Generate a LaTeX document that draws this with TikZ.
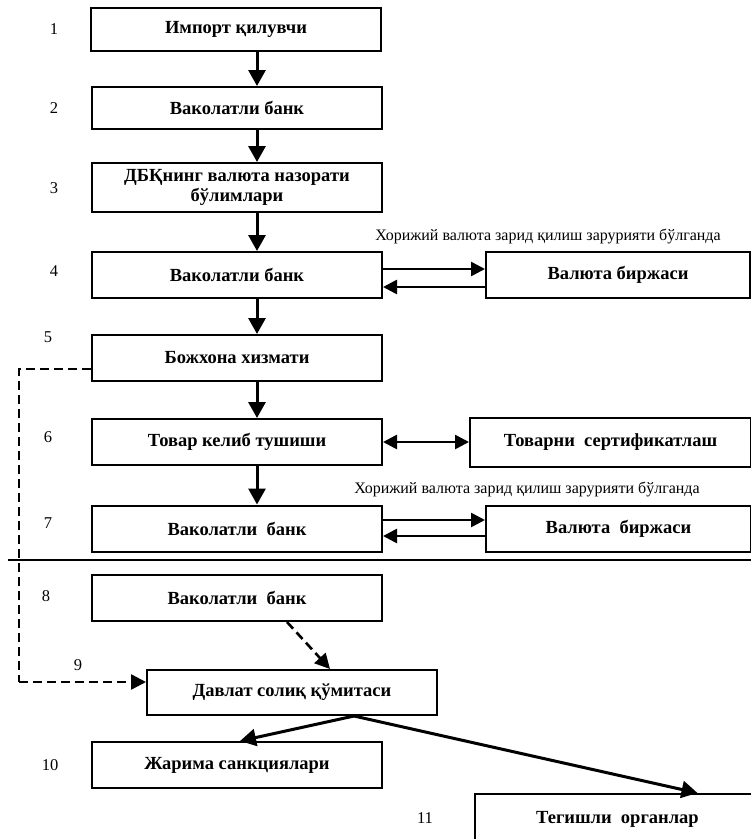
\documentclass[tikz,border=0pt]{standalone}
\usepackage{fontspec}
\setmainfont{Liberation Serif}
\usetikzlibrary{arrows.meta}
\tikzset{
 box/.style={draw, line width=2pt, inner sep=0pt, align=center,
   font=\bfseries\fontsize{18.5}{20}\selectfont},
 num/.style={font=\fontsize{16.5}{18}\selectfont, inner sep=0pt},
 note/.style={font=\fontsize{16}{18}\selectfont, inner sep=0pt},
 flow/.style={line width=3pt, -{Triangle[length=16pt,width=17pt]}},
 side/.style={line width=2.6pt, -{Triangle[length=14pt,width=14pt]}},
 both/.style={line width=2.6pt, {Triangle[length=14pt,width=14pt]}-{Triangle[length=14pt,width=14pt]}},
 dsh/.style={line width=2.6pt, dash pattern=on 9pt off 5pt},
 dflow/.style={dsh, -{Triangle[length=15pt,width=15pt]}},
}
\begin{document}
\begin{tikzpicture}[x=1pt,y=-1pt]
\useasboundingbox (0,0) rectangle (751,839);
\clip (0,0) rectangle (751,839);
\coordinate (ax) at (257,0);
% main column
\node[box, minimum width=290pt, minimum height=43pt] (b1) at (236,29.5) {Импорт қилувчи};
\node[box, minimum width=290pt, minimum height=42pt] (b2) at (237,108) {Ваколатли банк};
\node[box, minimum width=290pt, minimum height=49pt] (b3) at (237,187.5) {ДБҚнинг валюта назорати\\бўлимлари};
\node[box, minimum width=290pt, minimum height=46pt] (b4) at (237,275) {Ваколатли банк};
\node[box, minimum width=264pt, minimum height=46pt] (vb1) at (618,275) {Валюта биржаси};
\node[box, minimum width=290pt, minimum height=46pt] (b5) at (237,358) {Божхона хизмати};
\node[box, minimum width=290pt, minimum height=46pt] (b6) at (237,442) {Товар келиб тушиши};
\node[box, minimum width=281pt, minimum height=49pt] (ts) at (610.5,442.5) {Товарни\ \ сертификатлаш};
\node[box, minimum width=290pt, minimum height=46pt] (b7) at (237,528.5) {Ваколатли\ \ банк};
\node[box, minimum width=265pt, minimum height=46pt] (vb2) at (618.5,529) {Валюта\ \ биржаси};
\node[box, minimum width=290pt, minimum height=46pt] (b8) at (237,598) {Ваколатли\ \ банк};
\node[box, minimum width=290pt, minimum height=45pt] (b9) at (292,692.5) {Давлат солиқ қўмитаси};
\node[box, minimum width=290pt, minimum height=46pt] (b10) at (237,765) {Жарима санкциялари};
\node[box, minimum width=285pt, minimum height=51pt] (b11) at (617.5,819.5) {Тегишли\ \ органлар};
% numbers
\node[num] (n1) at (54,29) {1};
\node[num] (n2) at (54,108) {2};
\node[num] (n3) at (54,188) {3};
\node[num] (n4) at (54,271) {4};
\node[num] (n5) at (48,337) {5};
\node[num] (n6) at (48,437) {6};
\node[num] (n7) at (48,523) {7};
\node[num] (n8) at (46,596) {8};
\node[num] (n9) at (78,665) {9};
\node[num] (n10) at (50,765) {10};
\node[num] (n11) at (425,818) {11};
% notes
\node[note] (t1) at (548,236) {Хорижий валюта зарид қилиш зарурияти бўлганда};
\node[note] (t2) at (527,489) {Хорижий валюта зарид қилиш зарурияти бўлганда};
% separator
\coordinate (sl) at (8,560);
\coordinate (sr) at (751,560);
\draw[line width=1.6pt] (sl) -- (sr);
% vertical flow
\draw[flow] (b1.south -| ax) -- (b2.north -| ax);
\draw[flow] (b2.south -| ax) -- (b3.north -| ax);
\draw[flow] (b3.south -| ax) -- (b4.north -| ax);
\draw[flow] (b4.south -| ax) -- (b5.north -| ax);
\draw[flow] (b5.south -| ax) -- (b6.north -| ax);
\draw[flow] (b6.south -| ax) -- (b7.north -| ax);
% side arrows
\draw[side] ([yshift=6pt]b4.east) -- ([yshift=6pt]vb1.west);
\draw[side] ([yshift=-12pt]vb1.west) -- ([yshift=-12pt]b4.east);
\draw[both] (b6.east) -- (b6.east -| ts.west);
\draw[side] ([yshift=8.5pt]b7.east) -- ([yshift=8.5pt]b7.east -| vb2.west);
\draw[side] ([yshift=-7.5pt]b7.east -| vb2.west) -- ([yshift=-7.5pt]b7.east);
% dashed
\coordinate (dc) at (19,682);
\draw[dsh] ([yshift=-11pt]b5.west) -| (dc);
\draw[dflow] (dc) -- ([yshift=10.5pt]b9.west);
\draw[dflow] ([xshift=50pt]b8.south) -- ([xshift=38pt]b9.north);
% lower arrows
\draw[flow] ([xshift=62pt]b9.south) -- ([xshift=3pt]b10.north);
\draw[flow] ([xshift=62pt]b9.south) -- ([xshift=80pt]b11.north);
\end{tikzpicture}
\end{document}
